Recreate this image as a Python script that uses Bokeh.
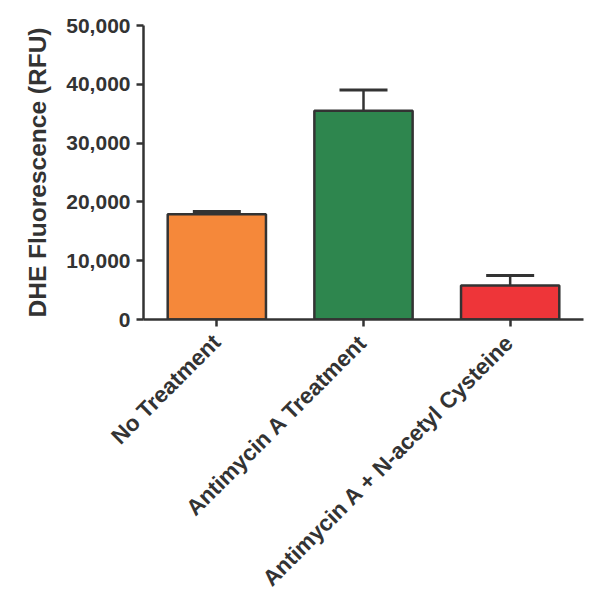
import math
from bokeh.plotting import figure
from bokeh.models import ColumnDataSource, Range1d, FactorRange, NumeralTickFormatter, Whisker, TeeHead, FixedTicker
from bokeh.embed import file_html
from bokeh.resources import INLINE

categories = ["No Treatment", "Antimycin A Treatment", "Antimycin A + N-acetyl Cysteine"]
means = [17900, 35500, 5800]
errors = [450, 3550, 1700]
colors = ["#F5883A", "#2E864E", "#EE3539"]
y_ticks = [0, 10000, 20000, 30000, 40000, 50000]

upper = [m + e for m, e in zip(means, errors)]
src = ColumnDataSource(dict(cat=categories, mean=means, upper=upper, color=colors))

FONT = "Liberation Sans"
TXT = "#333333"

p = figure(x_range=FactorRange(*categories), y_range=Range1d(0, 50000),
           width=592, height=574, frame_width=440, frame_height=294,
           min_border_left=143, min_border_right=9, min_border_top=25, min_border_bottom=255,
           output_backend="svg", toolbar_location=None, tools="")

p.vbar(x="cat", top="mean", width=0.67, source=src, fill_color="color",
       line_color="#333333", line_width=2.5)

w = Whisker(source=src, base="cat", upper="upper", lower="mean",
            line_color="#333333", line_width=2.5, lower_head=None,
            upper_head=TeeHead(size=48, line_color="#333333", line_width=3))
p.add_layout(w)

p.xgrid.visible = False
p.ygrid.visible = False
p.outline_line_color = None
p.background_fill_color = "white"
p.border_fill_color = "white"

yax = p.yaxis[0]
yax.ticker = FixedTicker(ticks=y_ticks)
yax.formatter = NumeralTickFormatter(format="0,0")
yax.axis_label = "DHE Fluorescence (RFU)"
yax.axis_label_text_font = FONT
yax.axis_label_text_font_style = "bold"
yax.axis_label_text_font_size = "24.5px"
yax.axis_label_text_color = TXT
yax.axis_label_standoff = 12
yax.major_label_text_font = FONT
yax.major_label_text_font_style = "bold"
yax.major_label_text_font_size = "21px"
yax.major_label_text_color = TXT
yax.major_label_standoff = 6
yax.axis_line_color = "#333333"
yax.axis_line_width = 2.5
yax.major_tick_line_color = "#333333"
yax.major_tick_line_width = 2.5
yax.major_tick_out = 7
yax.major_tick_in = 0
yax.minor_tick_line_color = None

xax = p.xaxis[0]
xax.major_label_orientation = math.pi / 4
xax.major_label_text_font = FONT
xax.major_label_text_font_style = "bold"
xax.major_label_text_font_size = "22.5px"
xax.major_label_text_color = TXT
xax.major_label_standoff = 12
xax.axis_line_color = "#333333"
xax.axis_line_width = 2.5
xax.major_tick_line_color = "#333333"
xax.major_tick_line_width = 2.5
xax.major_tick_out = 7
xax.major_tick_in = 0
xax.minor_tick_line_color = None

open("out.html", "w").write(file_html(p, INLINE))
